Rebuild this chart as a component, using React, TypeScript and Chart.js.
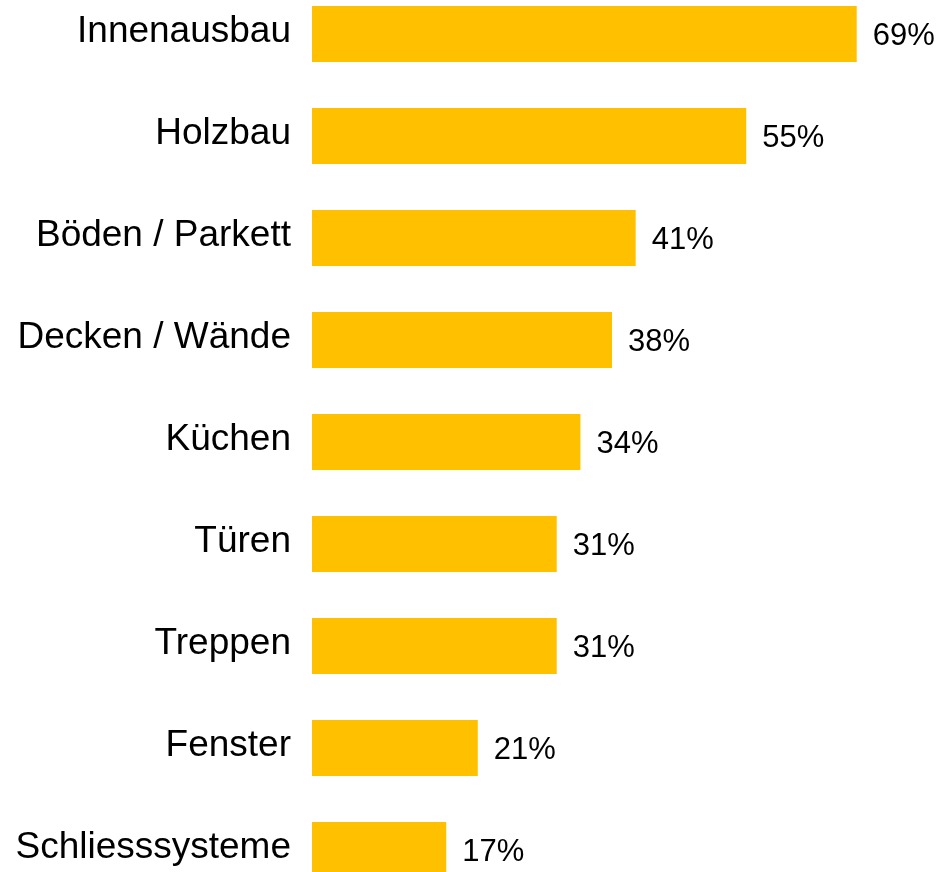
import React, { useEffect, useRef } from "react";
import { Chart, registerables } from "chart.js";

Chart.register(...registerables);

const categories = [
  "Innenausbau",
  "Holzbau",
  "Böden / Parkett",
  "Decken / Wände",
  "Küchen",
  "Türen",
  "Treppen",
  "Fenster",
  "Schliesssysteme",
];
const values = [69, 55, 41, 38, 34, 31, 31, 21, 17];
const barColor = "#FFC000";
const FONT = "'Liberation Sans', Arial, sans-serif";

const valueLabels = {
  id: "valueLabels",
  afterDatasetsDraw(chart: any) {
    const ctx = chart.ctx;
    const meta = chart.getDatasetMeta(0);
    ctx.save();
    ctx.font = `31px ${FONT}`;
    ctx.fillStyle = "#000";
    ctx.textAlign = "left";
    ctx.textBaseline = "middle";
    meta.data.forEach((bar: any, i: number) => {
      ctx.fillText(`${values[i]}%`, bar.x + 16, bar.y + 2);
    });
    ctx.restore();
  },
};

export default function App() {
  const ref = useRef<HTMLCanvasElement>(null);
  useEffect(() => {
    if (!ref.current) return;
    const chart = new Chart(ref.current, {
      type: "bar",
      data: {
        labels: categories,
        datasets: [
          {
            data: values,
            backgroundColor: barColor,
            borderWidth: 0,
            barPercentage: 0.55,
            categoryPercentage: 1,
          },
        ],
      },
      options: {
        indexAxis: "y",
        animation: false,
        responsive: false,
        maintainAspectRatio: false,
        layout: { padding: 0 },
        plugins: { legend: { display: false }, tooltip: { enabled: false } },
        scales: {
          x: { display: false, min: 0, max: 79.8 },
          y: {
            grid: { display: false, drawTicks: false },
            border: { display: false },
            afterFit: (scale: any) => {
              scale.width = 312;
              scale.paddingTop = 0;
              scale.paddingBottom = 0;
            },
            ticks: {
              padding: 21,
              labelOffset: -2,
              color: "#000",
              font: { size: 37, family: FONT },
            },
          },
        },
      },
      plugins: [valueLabels],
    });
    return () => chart.destroy();
  }, []);
  return (
    <div
      style={{
        position: "fixed",
        top: 0,
        left: 0,
        width: 942,
        height: 872,
        overflow: "hidden",
        background: "#fff",
      }}
    >
      <canvas
        ref={ref}
        width={942}
        height={918}
        style={{ position: "absolute", top: -17, left: 0, width: 942, height: 918 }}
      />
    </div>
  );
}
